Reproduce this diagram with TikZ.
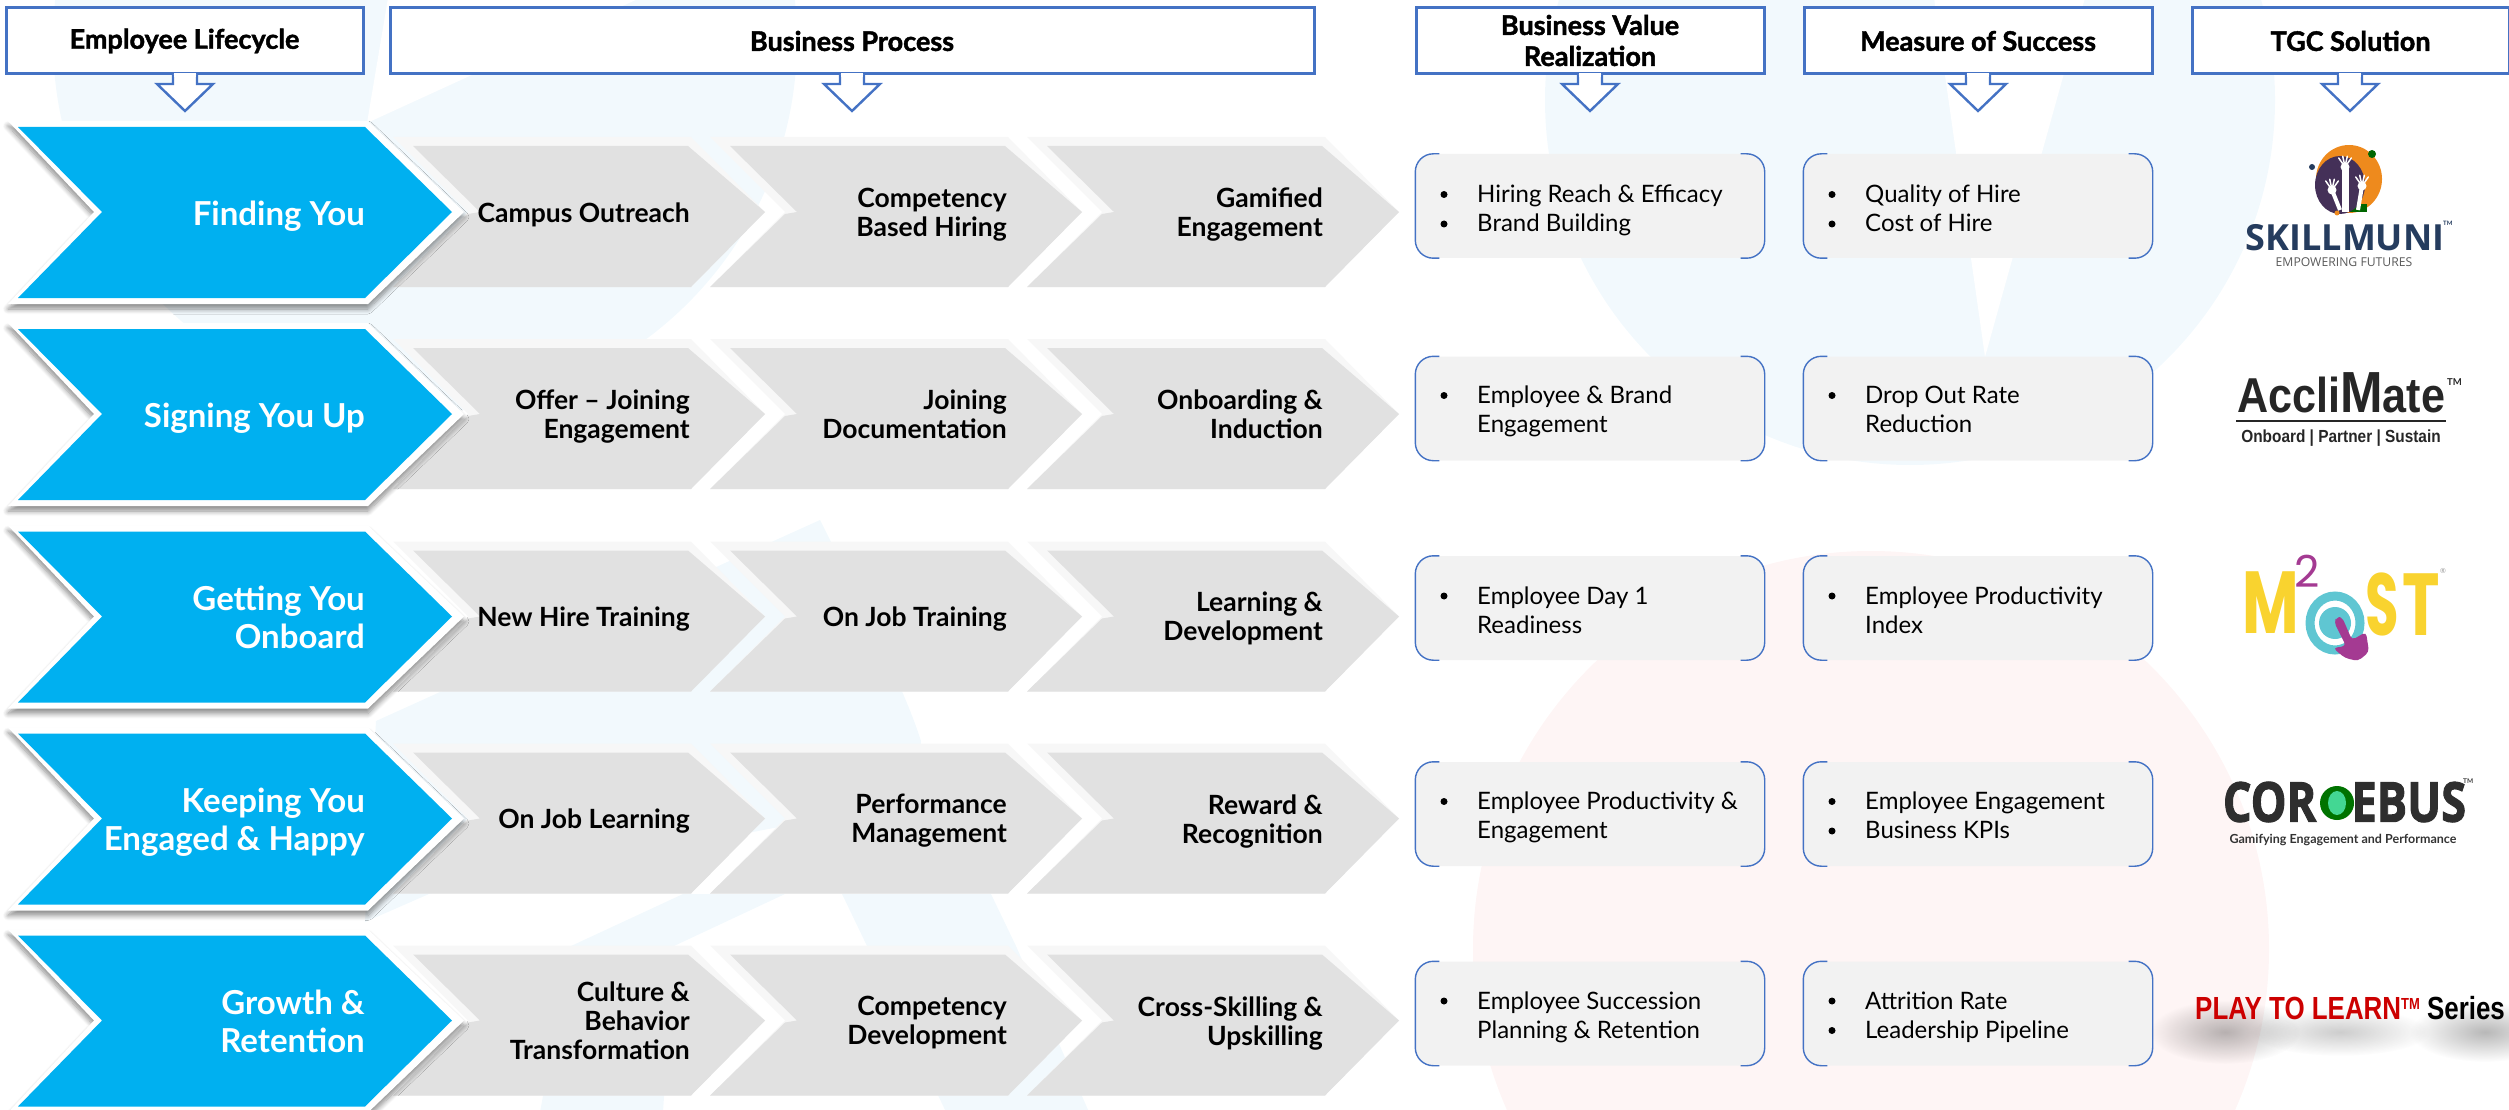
\documentclass[tikz,border=0pt]{standalone}
\usepackage{fontspec}
\setmainfont{Lato}
\newfontfamily\headfont{Lato}[UprightFont=* Bold, BoldFont=* Bold, UprightFeatures={FakeBold=1.6}, BoldFeatures={FakeBold=1.6}]
\newfontfamily\munifont{Open Sans}
\newfontfamily\corofont{Open Sans}[BoldFeatures={FakeBold=2}]
\newfontfamily\acclifont{Liberation Sans}[FakeStretch=0.88]
\newfontfamily\mostfont{Poppins}
\newfontfamily\playfont{Liberation Sans}
\usetikzlibrary{shadows.blur,fadings,calc,positioning}
\definecolor{framecol}{HTML}{4472C4}
\definecolor{bluecol}{HTML}{00B0F0}
\definecolor{greycol}{HTML}{E1E1E1}
\definecolor{boxcol}{HTML}{F2F2F2}
\definecolor{paleblue}{HTML}{F2F9FD}
\definecolor{palered}{HTML}{FEF5F5}
\definecolor{municol}{HTML}{253C5E}
\definecolor{muniorange}{HTML}{EE8A1D}
\definecolor{mostyellow}{HTML}{F9D32F}
\definecolor{mostteal}{HTML}{5FC6D2}
\definecolor{mostpurple}{HTML}{A43A92}
\newcommand{\fsz}[2]{\fontsize{#1}{#2}\selectfont}
\tikzfading[name=softspot, inner color=transparent!72, outer color=transparent!100]

\tikzset{
  headbox/.style={
    draw=framecol,
    line width=3pt,
    fill=white,
    minimum height=66pt,
    align=center,
    inner sep=0pt,
    font=\headfont\bfseries\fsz{27}{31},
    execute at begin node=\strut,
    execute at end node=\strut,
  },
  headarrow/.pic={
    \draw[framecol, line width=2.4pt, fill=white, line join=miter]
    (-12,0) -- (-12,9) -- (-28,9) -- (0,36) -- (28,9) -- (12,9) -- (12,0);
    \draw[white, line width=4pt] (-10.8,0) -- (10.8,0);
  },
  bluechevron/.pic={
    \fill[white, blur shadow={shadow xshift=0pt, shadow yshift=-5pt, shadow blur steps=8, shadow blur radius=5pt, shadow opacity=45}]
    (8,-91) -- (368,-91) -- (464,0) -- (368,92) -- (8,92) -- (94,0) -- cycle;
    \fill[bluecol] (18,-85) -- (365,-85) -- (452,0) -- (365,86) -- (18,86) -- (102,0) -- cycle;
  },
  greychevron/.pic={
    \fill[black!3] (0,-75) -- (298,-75) -- (372,0) -- (298,75) -- (0,75) -- (75,0) -- cycle;
    \fill[greycol] (20,-66) -- (295,-66) -- (372,0) -- (298,75) -- (0,75) -- (75,2) -- (87,0) -- cycle;
  },
  handmark/.pic={
    \fill[white] (0,0) circle[radius=4.5];
    \foreach \a in {-35,-12,12,35} {
      \draw[white, line width=1.5pt, line cap=round] (0,0) -- (\a-90:11);
    }
  },
  graytext/.style={
    anchor=east,
    align=right,
    inner sep=0pt,
    yshift=-4.5pt,
    font=\bfseries\fsz{26.5}{29},
    execute at begin node=\strut,
    execute at end node=\strut,
  },
  bluetext/.style={
    anchor=east,
    align=right,
    inner sep=0pt,
    text=white,
    yshift=-6pt,
    font=\bfseries\fsz{33}{38},
    execute at begin node=\strut,
    execute at end node=\strut,
  },
  valuebox/.style={
    fill=boxcol,
    rounded corners=18pt,
    minimum width=349pt,
    minimum height=104pt,
    inner sep=0pt,
  },
  bracket/.style={
    draw=framecol,
    line width=1.4pt,
    rounded corners=18pt,
  },
  itemtext/.style={
    anchor=west,
    inner sep=0pt,
    align=left,
    yshift=-4pt,
    font=\fsz{24}{29},
    execute at begin node=\strut,
    execute at end node=\strut,
  },
  bullet/.style={
    circle,
    fill=black,
    inner sep=0pt,
    minimum size=7pt,
  },
  logotext/.style={
    inner sep=0pt,
  },
}

\begin{document}
\begin{tikzpicture}[x=1pt, y=-1pt]

  \useasboundingbox (0,0) rectangle (2509,1110);
  \begin{scope}
    \clip (0,0) rectangle (2509,1110);

    % pale swooshes behind everything
    \fill[paleblue] (1910,100) circle[radius=365];
    \fill[white] (1934,-2) -- (2085,-2) -- (1985,357) -- cycle;
    \fill[palered] (1871,949) circle[radius=398];
    \fill[paleblue] (425,40) circle[radius=372];
    \fill[white] (367,123) -- (388,-2) -- (640,-2) -- cycle;
    \fill[paleblue] (820,520) .. controls (860,600) and (905,690) .. (921,741)
      -- (920,800) -- (429,894) -- (365,922) -- (376,721) -- cycle;
    \fill[paleblue] (683,894) -- (785,894) -- (674,946) -- (663,1112) -- (540,1112) -- (571,946) -- cycle;
    \fill[paleblue] (842,894) -- (991,894) -- (1016,946) -- (1089,1112) -- (946,1112) -- (867,946) -- cycle;
  \end{scope}

  % headers
  \foreach \name/\xm/\boxw/\xt/\txt in {
    life/184.5/357/185/Employee Lifecycle,
    proc/852/924/852/Business Process,
    real/1590/348/1590/{Business Value\\Realization},
    succ/1978/348/1978/Measure of Success,
    tgc/2350.5/317/2350/TGC Solution} {
    \node[headbox, minimum width=\boxw pt] (\name) at (\xm,40.5) {\raisebox{-0.5pt}{\parbox{\boxw pt}{\centering\txt}}};
    \pic at (\xt,75) {headarrow};
  }

  % chevron rows
  \foreach \row/\y/\first/\secnd/\third/\fourth in {
    1/212/Finding You/Campus Outreach/{Competency\\Based Hiring}/{Gamified\\Engagement},
    2/414/Signing You Up/{Offer -- Joining\\Engagement}/{Joining\\Documentation}/{Onboarding \&\\Induction},
    3/616.5/{Getting You\\Onboard}/New Hire Training/On Job Training/{Learning \&\\Development},
    4/818.5/{Keeping You\\Engaged \& Happy}/On Job Learning/{Performance\\Management}/{Reward \&\\Recognition},
    5/1020.5/{Growth \&\\Retention}/{Culture \&\\Behavior\\Transformation}/{Competency\\Development}/{Cross-Skilling \&\\Upskilling}} {
    \pic at (1027,\y) {greychevron};
    \pic at (710,\y) {greychevron};
    \pic at (393,\y) {greychevron};
    \pic at (0,\y) {bluechevron};
    \node[bluetext] (step\row) at (365,\y) {\first};
    \node[graytext] (grey\row a) at (690,\y) {\secnd};
    \node[graytext] (grey\row b) at (1007,\y) {\third};
    \node[graytext] (grey\row c) at (1323,\y) {\fourth};
  }

  % value boxes
  \foreach \col/\xm in {real/1590,succ/1978} {
    \foreach \row/\y in {1/206,2/408.5,3/608,4/814,5/1013.5} {
      \node[valuebox] (\col\row) at (\xm,\y) {};
      \draw[bracket] ($(\col\row.north west)+(24,0)$) -- (\col\row.north west)
        -- (\col\row.south west) -- ($(\col\row.south west)+(24,0)$);
      \draw[bracket] ($(\col\row.north east)+(-24,0)$) -- (\col\row.north east)
        -- (\col\row.south east) -- ($(\col\row.south east)+(-24,0)$);
    }
  }

  % value text, one bullet per item
  \foreach \xl/\xb/\y/\txt in {
    1477/1444/209/{Hiring Reach \& Efficacy\\Brand Building},
    1477/1444/410/{Employee \& Brand\\Engagement},
    1477/1444/610.5/{Employee Day 1\\Readiness},
    1477/1444/816/{Employee Productivity \&\\Engagement},
    1477/1444/1015.5/{Employee Succession\\Planning \& Retention},
    1865/1832/209/{Quality of Hire\\Cost of Hire},
    1865/1832/410/{Drop Out Rate\\Reduction},
    1865/1832/610.5/{Employee Productivity\\Index},
    1865/1832/816/{Employee Engagement\\Business KPIs},
    1865/1832/1015.5/{Attrition Rate\\Leadership Pipeline}} {
    \node[itemtext] at (\xl,\y) {\txt};
    \node[bullet] at (\xb,\y-14.5) {};
  }
  \node[bullet] at (1832,224) {};
  \node[bullet] at (1444,224) {};
  \node[bullet] at (1832,831) {};
  \node[bullet] at (1832,1030.5) {};

  % SkillMuni logo
  \fill[muniorange] (2349,179) ellipse[x radius=33, y radius=34];
  \fill[green!40!black] (2350,204) rectangle (2367,212);
  \fill[municol!80!purple] (2340,185) ellipse[x radius=25, y radius=29];
  \fill[green!40!black] (2372,154) circle[radius=4];
  \fill[municol] (2312,167) circle[radius=3];
  \fill[muniorange] (2337,213) circle[radius=2.5];
  \draw[white, line width=7pt] (2345,168) -- (2345,212);
  \draw[white, line width=4pt] (2332,190) -- (2340,210);
  \draw[white, line width=4pt] (2362,186) -- (2358,210);
  \pic at (2345,167) {handmark};
  \pic at (2332,190) {handmark};
  \pic at (2362,186) {handmark};
  \node[logotext, text=municol, font=\munifont\bfseries\fsz{36}{38}] (muni) at (2345,238) {SKILLMUNI};
  \node[logotext, anchor=west, text=municol, font=\bfseries\fsz{6}{6}] (munitm) at (2443,223) {TM};
  \node[logotext, text=black!65, font=\munifont\fsz{12.2}{13}] (munisub) at (2344,262) {EMPOWERING FUTURES};

  % AccliMate logo
  \node[logotext, anchor=base west, text=black!85, font=\acclifont\bfseries\fsz{49}{49}] (accli) at (2237,412) {Accli{\fsz{58}{58}M}ate};
  \node[logotext, anchor=west, text=black!85, font=\bfseries\fsz{9.5}{9.5}] (acclitm) at (2447,382) {TM};
  \draw[black!85, line width=2.2pt] (2236,421) -- (2446,421);
  \node[logotext, text=black!85, font=\acclifont\bfseries\fsz{17.5}{18}] (acclisub) at (2341,438) {Onboard | Partner | Sustain};

  % M2OST logo
  \node[logotext, anchor=base, text=mostyellow, font=\mostfont\bfseries\fsz{88}{88}] (mostm) at (2271,633) {\scalebox{.7}[1]{M}};
  \node[logotext, anchor=base, text=mostyellow, font=\mostfont\bfseries\fsz{88}{88}] (mosts) at (2382,635) {\scalebox{.62}[1]{S}};
  \node[logotext, anchor=base, text=mostyellow, font=\mostfont\bfseries\fsz{88}{88}] (mostt) at (2421,635) {\scalebox{.72}[1]{T}};
  \node[logotext, anchor=base, text=mostpurple, font=\mostfont\fsz{44}{44}] (mosttwo) at (2307,587) {2};
  \node[logotext, text=black!40, font=\fsz{7}{7}] (mostreg) at (2443,571) {\textregistered};
  \draw[mostteal, line width=9pt] (2335,623) ellipse[x radius=25, y radius=27];
  \fill[mostteal] (2335,623) circle[radius=16];
  \fill[mostpurple, rounded corners=4pt] (2334,622) -- (2337,617) -- (2342,617) -- (2352,640)
    -- (2366,632) -- (2369,652) -- (2358,661) -- (2345,658) -- (2333,648) -- (2346,646) -- cycle;

  % Coroebus logo
  \node[logotext, text=black!82, font=\corofont\bfseries\fsz{55}{55}] (coro) at (2344.5,802) {\scalebox{.82}[1]{COR\hspace{43pt}EBUS}};
  \fill[green!45!black] (2337,803) circle[radius=17];
  \fill[mostteal!70!green] (2337,803) ellipse[x radius=9, y radius=12];
  \node[logotext, anchor=west, text=black!75, font=\bfseries\fsz{6.5}{7}] (corotm) at (2463,781) {TM};
  \node[logotext, text=black!80, font=\bfseries\fsz{12.5}{14}] (corosub) at (2343,840) {Gamifying Engagement and Performance};

  % Play to learn logo
  \fill[black, path fading=softspot] (2225,1032) ellipse[x radius=75, y radius=32];
  \fill[black, opacity=.7, path fading=softspot] (2340,1032) ellipse[x radius=90, y radius=24];
  \fill[black, path fading=softspot] (2485,1032) ellipse[x radius=75, y radius=30];
  \node[logotext, anchor=west, font=\playfont\bfseries\fsz{32}{32}] (play) at (2195,1008) {\scalebox{.81}[1]{\textcolor{red!80!black}{PLAY TO LEARN\raisebox{10pt}{\fsz{16}{16}TM}} Series}};

\end{tikzpicture}
\end{document}
